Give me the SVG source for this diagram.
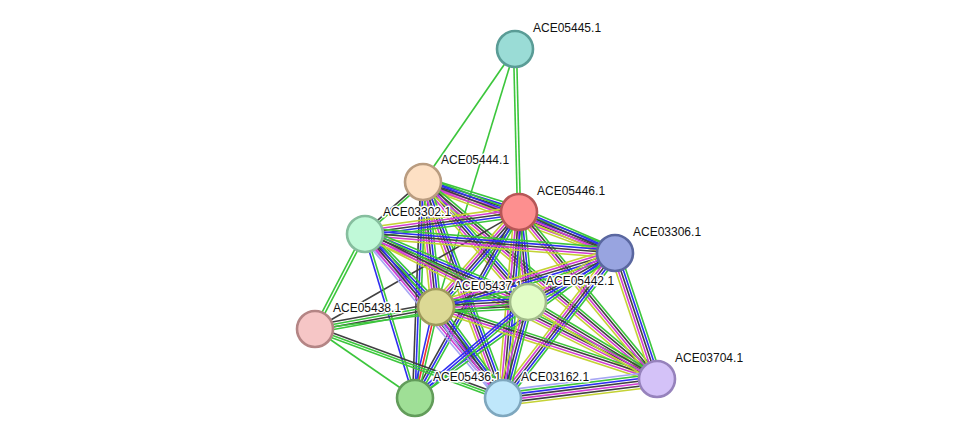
<svg xmlns="http://www.w3.org/2000/svg" width="976" height="444" viewBox="0 0 976 444">
<style>
.g{stroke:#3cc63c}.r{stroke:#f03232}.b{stroke:#2e2ef0}.k{stroke:#404040}.m{stroke:#d23cd2}.y{stroke:#c4d234}.l{stroke:#a6a6f4}
#edges line{stroke-width:1.6;fill:none}
.n circle{stroke-width:2.6}
.n text{font-family:"Liberation Sans",Arial,sans-serif;font-size:12px;fill:#111;stroke:#fff;stroke-width:3px;paint-order:stroke;stroke-linejoin:round}
</style>
<rect width="976" height="444" fill="#fff"/>
<g id="edges">
<g transform="translate(515 49) rotate(124.67)"><line class="g" x2="161.7"/></g>
<g transform="translate(515 49) rotate(107)"><line class="g" x2="269.8"/></g>
<g transform="translate(515 49) rotate(88.6)"><line class="g" x2="163" y1="-1.5" y2="-1.5"/><line class="g" x2="163" y1="1.5" y2="1.5"/></g>
<g transform="translate(423 182) rotate(17.35)"><line class="g" x2="100.6" y1="-5" y2="-5"/><line class="b" x2="100.6" y1="-2.5" y2="-2.5"/><line class="k" x2="100.6"/><line class="m" x2="100.6" y1="2.5" y2="2.5"/><line class="y" x2="100.6" y1="5" y2="5"/></g>
<g transform="translate(423 182) rotate(20.29)"><line class="g" x2="204.7" y1="-5" y2="-5"/><line class="b" x2="204.7" y1="-2.5" y2="-2.5"/><line class="k" x2="204.7"/><line class="m" x2="204.7" y1="2.5" y2="2.5"/><line class="y" x2="204.7" y1="5" y2="5"/></g>
<g transform="translate(423 182) rotate(138.67)"><line class="g" x2="77.2" y1="-1.25" y2="-1.25"/><line class="k" x2="77.2" y1="1.25" y2="1.25"/></g>
<g transform="translate(423 182) rotate(84.06)"><line class="g" x2="125.7" y1="-5" y2="-5"/><line class="b" x2="125.7" y1="-2.5" y2="-2.5"/><line class="k" x2="125.7"/><line class="m" x2="125.7" y1="2.5" y2="2.5"/><line class="y" x2="125.7" y1="5" y2="5"/></g>
<g transform="translate(423 182) rotate(48.81)"><line class="g" x2="159.5" y1="-5" y2="-5"/><line class="b" x2="159.5" y1="-2.5" y2="-2.5"/><line class="k" x2="159.5"/><line class="m" x2="159.5" y1="2.5" y2="2.5"/><line class="y" x2="159.5" y1="5" y2="5"/></g>
<g transform="translate(423 182) rotate(69.68)"><line class="g" x2="230.3" y1="-5" y2="-5"/><line class="b" x2="230.3" y1="-2.5" y2="-2.5"/><line class="k" x2="230.3"/><line class="m" x2="230.3" y1="2.5" y2="2.5"/><line class="y" x2="230.3" y1="5" y2="5"/></g>
<g transform="translate(423 182) rotate(92.12)"><line class="g" x2="216.2" y1="-2.5" y2="-2.5"/><line class="b" x2="216.2"/><line class="k" x2="216.2" y1="2.5" y2="2.5"/></g>
<g transform="translate(423 182) rotate(40.09)"><line class="g" x2="305.9" y1="-3.75" y2="-3.75"/><line class="k" x2="305.9" y1="-1.25" y2="-1.25"/><line class="m" x2="305.9" y1="1.25" y2="1.25"/><line class="y" x2="305.9" y1="3.75" y2="3.75"/></g>
<g transform="translate(519 212) rotate(172.23)"><line class="g" x2="155.4" y1="-5" y2="-5"/><line class="b" x2="155.4" y1="-2.5" y2="-2.5"/><line class="k" x2="155.4"/><line class="m" x2="155.4" y1="2.5" y2="2.5"/><line class="y" x2="155.4" y1="5" y2="5"/></g>
<g transform="translate(519 212) rotate(23.13)"><line class="g" x2="104.4" y1="-5" y2="-5"/><line class="b" x2="104.4" y1="-2.5" y2="-2.5"/><line class="k" x2="104.4"/><line class="m" x2="104.4" y1="2.5" y2="2.5"/><line class="y" x2="104.4" y1="5" y2="5"/></g>
<g transform="translate(519 212) rotate(131.14)"><line class="g" x2="126.2" y1="-5" y2="-5"/><line class="b" x2="126.2" y1="-2.5" y2="-2.5"/><line class="k" x2="126.2"/><line class="m" x2="126.2" y1="2.5" y2="2.5"/><line class="y" x2="126.2" y1="5" y2="5"/></g>
<g transform="translate(519 212) rotate(84.29)"><line class="g" x2="90.5" y1="-5" y2="-5"/><line class="b" x2="90.5" y1="-2.5" y2="-2.5"/><line class="k" x2="90.5"/><line class="m" x2="90.5" y1="2.5" y2="2.5"/><line class="y" x2="90.5" y1="5" y2="5"/></g>
<g transform="translate(519 212) rotate(94.92)"><line class="g" x2="186.7" y1="-5" y2="-5"/><line class="b" x2="186.7" y1="-2.5" y2="-2.5"/><line class="k" x2="186.7"/><line class="m" x2="186.7" y1="2.5" y2="2.5"/><line class="y" x2="186.7" y1="5" y2="5"/></g>
<g transform="translate(519 212) rotate(119.21)"><line class="g" x2="213.1" y1="-2.5" y2="-2.5"/><line class="b" x2="213.1"/><line class="k" x2="213.1" y1="2.5" y2="2.5"/></g>
<g transform="translate(519 212) rotate(50.43)"><line class="g" x2="216.6" y1="-3.75" y2="-3.75"/><line class="k" x2="216.6" y1="-1.25" y2="-1.25"/><line class="m" x2="216.6" y1="1.25" y2="1.25"/><line class="y" x2="216.6" y1="3.75" y2="3.75"/></g>
<g transform="translate(519 212) rotate(150.17)"><line class="k" x2="235.2"/></g>
<g transform="translate(365 233) rotate(4.57)"><line class="g" x2="250.8" y1="-5" y2="-5"/><line class="b" x2="250.8" y1="-2.5" y2="-2.5"/><line class="k" x2="250.8"/><line class="m" x2="250.8" y1="2.5" y2="2.5"/><line class="y" x2="250.8" y1="5" y2="5"/></g>
<g transform="translate(365 233) rotate(46.19)"><line class="g" x2="102.6" y1="-5" y2="-5"/><line class="b" x2="102.6" y1="-2.5" y2="-2.5"/><line class="k" x2="102.6"/><line class="m" x2="102.6" y1="2.5" y2="2.5"/><line class="l" x2="102.6" y1="5" y2="5"/></g>
<g transform="translate(365 233) rotate(22.94)"><line class="g" x2="177" y1="-5" y2="-5"/><line class="b" x2="177" y1="-2.5" y2="-2.5"/><line class="k" x2="177"/><line class="m" x2="177" y1="2.5" y2="2.5"/><line class="y" x2="177" y1="5" y2="5"/></g>
<g transform="translate(365 233) rotate(50.09)"><line class="g" x2="215.1" y1="-5" y2="-5"/><line class="b" x2="215.1" y1="-2.5" y2="-2.5"/><line class="k" x2="215.1"/><line class="m" x2="215.1" y1="2.5" y2="2.5"/><line class="l" x2="215.1" y1="5" y2="5"/></g>
<g transform="translate(365 233) rotate(73.14)"><line class="g" x2="172.4" y1="-1.25" y2="-1.25"/><line class="b" x2="172.4" y1="1.25" y2="1.25"/></g>
<g transform="translate(365 233) rotate(117.51)"><line class="g" x2="108.2" y1="-1.5" y2="-1.5"/><line class="g" x2="108.2" y1="1.5" y2="1.5"/></g>
<g transform="translate(365 233) rotate(26.57)"><line class="g" x2="326.5" y1="-3.75" y2="-3.75"/><line class="k" x2="326.5" y1="-1.25" y2="-1.25"/><line class="m" x2="326.5" y1="1.25" y2="1.25"/><line class="y" x2="326.5" y1="3.75" y2="3.75"/></g>
<g transform="translate(615 253) rotate(163.21)"><line class="g" x2="187" y1="-5" y2="-5"/><line class="b" x2="187" y1="-2.5" y2="-2.5"/><line class="k" x2="187"/><line class="m" x2="187" y1="2.5" y2="2.5"/><line class="y" x2="187" y1="5" y2="5"/></g>
<g transform="translate(615 253) rotate(150.61)"><line class="g" x2="99.9" y1="-5" y2="-5"/><line class="b" x2="99.9" y1="-2.5" y2="-2.5"/><line class="k" x2="99.9"/><line class="m" x2="99.9" y1="2.5" y2="2.5"/><line class="y" x2="99.9" y1="5" y2="5"/></g>
<g transform="translate(615 253) rotate(127.69)"><line class="g" x2="183.2" y1="-5" y2="-5"/><line class="b" x2="183.2" y1="-2.5" y2="-2.5"/><line class="k" x2="183.2"/><line class="m" x2="183.2" y1="2.5" y2="2.5"/><line class="y" x2="183.2" y1="5" y2="5"/></g>
<g transform="translate(615 253) rotate(71.57)"><line class="g" x2="132.8" y1="-5" y2="-5"/><line class="b" x2="132.8" y1="-2.5" y2="-2.5"/><line class="k" x2="132.8"/><line class="m" x2="132.8" y1="2.5" y2="2.5"/><line class="y" x2="132.8" y1="5" y2="5"/></g>
<g transform="translate(615 253) rotate(144.06)"><line class="g" x2="247" y1="-1.25" y2="-1.25"/><line class="b" x2="247" y1="1.25" y2="1.25"/></g>
<g transform="translate(436 307) rotate(-3.11)"><line class="g" x2="92.1" y1="-6.25" y2="-6.25"/><line class="b" x2="92.1" y1="-3.75" y2="-3.75"/><line class="k" x2="92.1" y1="-1.25" y2="-1.25"/><line class="m" x2="92.1" y1="1.25" y2="1.25"/><line class="k" x2="92.1" y1="3.75" y2="3.75"/><line class="g" x2="92.1" y1="6.25" y2="6.25"/></g>
<g transform="translate(436 307) rotate(169.7)"><line class="g" x2="123" y1="-3.75" y2="-3.75"/><line class="k" x2="123" y1="-1.25" y2="-1.25"/><line class="g" x2="123" y1="1.25" y2="1.25"/><line class="k" x2="123" y1="3.75" y2="3.75"/></g>
<g transform="translate(436 307) rotate(103)"><line class="g" x2="93.4" y1="-2.5" y2="-2.5"/><line class="r" x2="93.4"/><line class="b" x2="93.4" y1="2.5" y2="2.5"/></g>
<g transform="translate(436 307) rotate(53.64)"><line class="g" x2="113" y1="-5" y2="-5"/><line class="b" x2="113" y1="-2.5" y2="-2.5"/><line class="k" x2="113"/><line class="m" x2="113" y1="2.5" y2="2.5"/><line class="l" x2="113" y1="5" y2="5"/></g>
<g transform="translate(436 307) rotate(18.04)"><line class="g" x2="232.4" y1="-3.75" y2="-3.75"/><line class="k" x2="232.4" y1="-1.25" y2="-1.25"/><line class="m" x2="232.4" y1="1.25" y2="1.25"/><line class="y" x2="232.4" y1="3.75" y2="3.75"/></g>
<g transform="translate(528 302) rotate(139.65)"><line class="g" x2="148.3" y1="-2.5" y2="-2.5"/><line class="b" x2="148.3"/><line class="b" x2="148.3" y1="2.5" y2="2.5"/></g>
<g transform="translate(528 302) rotate(104.6)"><line class="g" x2="99.2" y1="-5" y2="-5"/><line class="b" x2="99.2" y1="-2.5" y2="-2.5"/><line class="k" x2="99.2"/><line class="m" x2="99.2" y1="2.5" y2="2.5"/><line class="y" x2="99.2" y1="5" y2="5"/></g>
<g transform="translate(528 302) rotate(30.83)"><line class="g" x2="150.2" y1="-3.75" y2="-3.75"/><line class="k" x2="150.2" y1="-1.25" y2="-1.25"/><line class="m" x2="150.2" y1="1.25" y2="1.25"/><line class="y" x2="150.2" y1="3.75" y2="3.75"/></g>
<g transform="translate(528 302) rotate(172.78)"><line class="g" x2="214.7"/></g>
<g transform="translate(315 329) rotate(34.61)"><line class="g" x2="121.5"/></g>
<g transform="translate(315 329) rotate(20.15)"><line class="k" x2="200.3" y1="-2.5" y2="-2.5"/><line class="g" x2="200.3"/><line class="g" x2="200.3" y1="2.5" y2="2.5"/></g>
<g transform="translate(503 398) rotate(-7.03)"><line class="l" x2="155.2" y1="-7.5" y2="-7.5"/><line class="g" x2="155.2" y1="-5" y2="-5"/><line class="b" x2="155.2" y1="-2.5" y2="-2.5"/><line class="k" x2="155.2"/><line class="m" x2="155.2" y1="2.5" y2="2.5"/><line class="k" x2="155.2" y1="5" y2="5"/><line class="y" x2="155.2" y1="7.5" y2="7.5"/></g>
</g>
<g id="ACE05445.1" class="n"><circle cx="515" cy="49" r="18" fill="#9adcd6" stroke="#5a9c96"/><text x="533" y="32">ACE05445.1</text></g>
<g id="ACE05444.1" class="n"><circle cx="423" cy="182" r="18" fill="#fde0c4" stroke="#b99c80"/><text x="441" y="164">ACE05444.1</text></g>
<g id="ACE05446.1" class="n"><circle cx="519" cy="212" r="18" fill="#fd8f8f" stroke="#b75656"/><text x="537" y="195">ACE05446.1</text></g>
<g id="ACE03302.1" class="n"><circle cx="365" cy="234" r="18" fill="#c0f9d8" stroke="#86be9e"/><text x="383" y="216">ACE03302.1</text></g>
<g id="ACE03306.1" class="n"><circle cx="615" cy="253" r="18" fill="#98a4e0" stroke="#5a67a0"/><text x="633" y="236">ACE03306.1</text></g>
<g id="ACE05437.1" class="n"><circle cx="436" cy="307" r="18" fill="#dcd995" stroke="#9e9a5c"/><text x="454" y="290">ACE05437.1</text></g>
<g id="ACE05442.1" class="n"><circle cx="528" cy="302" r="18" fill="#e2fdc6" stroke="#a2bc8a"/><text x="546" y="285">ACE05442.1</text></g>
<g id="ACE05438.1" class="n"><circle cx="315" cy="329" r="18" fill="#f6c6c6" stroke="#b48585"/><text x="333" y="312">ACE05438.1</text></g>
<g id="ACE03704.1" class="n"><circle cx="657" cy="379" r="18" fill="#d4c2f8" stroke="#9682bc"/><text x="675" y="362">ACE03704.1</text></g>
<g id="ACE05436.1" class="n"><circle cx="415" cy="398" r="18" fill="#9fdf96" stroke="#629c5a"/><text x="433" y="381">ACE05436.1</text></g>
<g id="ACE03162.1" class="n"><circle cx="503" cy="398" r="18" fill="#bfe7fb" stroke="#7ea7be"/><text x="521" y="381">ACE03162.1</text></g>
</svg>
